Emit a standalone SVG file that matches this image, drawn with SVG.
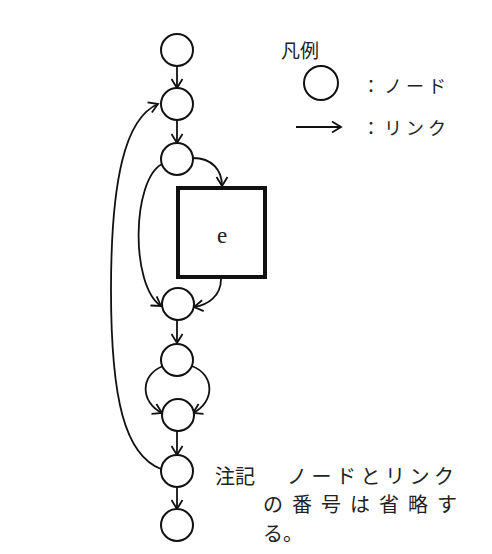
<svg xmlns="http://www.w3.org/2000/svg" width="492" height="554" viewBox="0 0 492 554">
<style>
.node{fill:#fff;stroke:#111;stroke-width:2}
.link{fill:none;stroke:#111;stroke-width:1.8;marker-end:url(#arr)}
.jp{font-family:"Noto Sans CJK JP","Noto Sans",sans-serif;fill:#222}
</style>
<defs>
<marker id="arr" markerUnits="userSpaceOnUse" viewBox="-11 -7 13 14" markerWidth="13" markerHeight="14" refX="0" refY="0" orient="auto">
<path d="M-9,-5.5 L0,0 L-9,5.5" fill="none" stroke="#111" stroke-width="1.8"/>
</marker>
</defs>
<rect width="492" height="554" fill="#fff"/>
<g id="connectors">
<path class="link" d="M177,66 L177,88"/>
<path class="link" d="M177,120 L177,143"/>
<path class="link" d="M193,158 C212,158 222,170 222,186"/>
<path class="link" d="M162,164 C132,180 130,285 161,306"/>
<path class="link" d="M221,279 C221,296 208,305 194,307"/>
<path class="link" d="M177,320 L177,343"/>
<path class="link" d="M163,366 C140,375 140,402 162,413"/>
<path class="link" d="M192,366 C215,375 215,402 193,413"/>
<path class="link" d="M177,431 L177,455"/>
<path class="link" d="M177,487 L177,509"/>
<path class="link" d="M161,469 C125,455 111,400 111,290 C111,180 125,118 158,104"/>
<path class="link" d="M296,127 L341,127" stroke-width="2.2"/>
</g>
<g id="n1"><circle class="node" cx="177" cy="50" r="16"/></g>
<g id="n2"><circle class="node" cx="177" cy="104" r="16"/></g>
<g id="n3"><circle class="node" cx="177" cy="159" r="16"/></g>
<g id="e"><rect x="178" y="188" width="87" height="89" fill="#fff" stroke="#111" stroke-width="4"/>
<text x="222" y="243" font-family="Liberation Serif,serif" font-size="23" text-anchor="middle" fill="#222">e</text></g>
<g id="n4"><circle class="node" cx="178" cy="304" r="16"/></g>
<g id="n5"><circle class="node" cx="177" cy="360" r="16"/></g>
<g id="n6"><circle class="node" cx="178" cy="415" r="16"/></g>
<g id="n7"><circle class="node" cx="177" cy="471" r="16"/></g>
<g id="n8"><circle class="node" cx="177" cy="525" r="16"/></g>
<g id="legend">
<text class="jp" x="281" y="58" font-size="19">凡例</text>
<circle class="node" cx="321" cy="83" r="17"/>
<text class="jp" x="362" y="93" font-size="18" letter-spacing="4">：ノード</text>
<text class="jp" x="362" y="135" font-size="18" letter-spacing="4">：リンク</text>
</g>
<g id="note">
<text class="jp" x="215" y="484" font-size="20">注記</text>
<text class="jp" x="287" y="484" font-size="20" letter-spacing="4.5">ノードとリンク</text>
<text class="jp" x="263" y="512" font-size="20" letter-spacing="9">の番号は省略す</text>
<text class="jp" x="263" y="541" font-size="20">る。</text>
</g>
</svg>
